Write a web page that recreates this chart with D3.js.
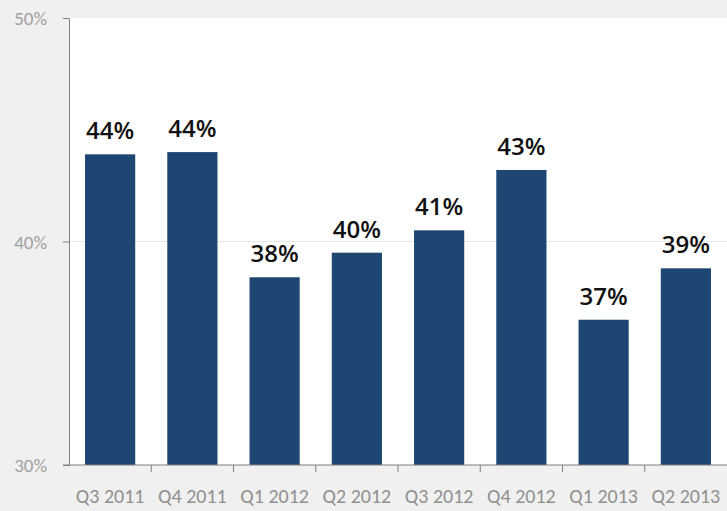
<html>
<head>
<script src="https://d3js.org/d3.v7.min.js" charset="utf-8"></script>
<style>
  body { margin: 0; background: #f0f0f0; }
</style>
</head>
<body>
<div id="viz"></div>
<script>
  // data
  const quarters = ["Q3 2011", "Q4 2011", "Q1 2012", "Q2 2012", "Q3 2012", "Q4 2012", "Q1 2013", "Q2 2013"];
  const shares   = [43.9, 44.0, 38.4, 39.5, 40.5, 43.2, 36.5, 38.8];
  const labels   = ["44%", "44%", "38%", "40%", "41%", "43%", "37%", "39%"];
  const yTicks   = [30, 40, 50];

  const width = 727, height = 511;
  const margin = { top: 18, right: 0, bottom: 46, left: 69 };
  const w = width - margin.left - margin.right,
        h = height - margin.top - margin.bottom;

  const svg = d3.select("#viz").append("svg").attr("width", width).attr("height", height)
      .style("display", "block");
  svg.append("rect").attr("width", width).attr("height", height).attr("fill", "#f0f0f0");

  const g = svg.append("g").attr("transform", `translate(${margin.left},${margin.top})`);
  g.append("rect").attr("width", w).attr("height", h).attr("fill", "#ffffff");

  const x = d3.scaleBand().domain(quarters).range([0, w]).paddingInner(0.39).paddingOuter(0.195);
  const xb = d3.scaleBand().domain(quarters).range([0, w]);   // tick positions at boundaries
  const y = d3.scaleLinear().domain([30, 50]).range([h, 0]);

  // gridline at 40%
  g.append("line").attr("x1", 0).attr("x2", w).attr("y1", y(40)).attr("y2", y(40))
      .attr("stroke", "#e6e6e6").attr("stroke-width", 1);

  // y axis
  const yAxis = g.append("g")
      .call(d3.axisLeft(y).tickValues(yTicks).tickFormat(d => d + "%").tickSize(6).tickSizeOuter(0));
  yAxis.select(".domain").attr("stroke", "#7f7f7f");
  yAxis.selectAll(".tick line").attr("stroke", "#7f7f7f");
  yAxis.selectAll(".tick text").attr("x", -22).attr("dy", "0.35em").attr("fill", "#a0a0a0")
      .style("font-family", "Carlito, Lato, sans-serif").style("font-size", "19px")
      .style("font-weight", "300");

  // bars
  g.selectAll(".bar").data(quarters).join("rect")
      .attr("class", "bar")
      .attr("x", d => x(d))
      .attr("y", (d, i) => y(shares[i]))
      .attr("width", x.bandwidth())
      .attr("height", (d, i) => h - y(shares[i]))
      .attr("fill", "#1d4772");

  // value labels
  g.selectAll(".lbl").data(quarters).join("text")
      .attr("class", "lbl")
      .attr("x", d => x(d) + x.bandwidth() / 2)
      .attr("y", (d, i) => y(shares[i]) - 15)
      .attr("text-anchor", "middle")
      .attr("fill", "#111")
      .style("font-family", "'Open Sans', 'DejaVu Sans', sans-serif")
      .style("font-size", "24px")
      .style("font-weight", "600")
      .text((d, i) => labels[i]);

  // x axis
  const xg = g.append("g").attr("transform", `translate(0,${h})`);
  xg.append("line").attr("x1", -6).attr("x2", w).attr("y1", 0).attr("y2", 0).attr("stroke", "#7f7f7f");
  xg.selectAll(".xt").data(quarters.slice(1)).join("line")
      .attr("x1", d => xb(d)).attr("x2", d => xb(d))
      .attr("y1", 0).attr("y2", 7).attr("stroke", "#7f7f7f");
  xg.selectAll(".xl").data(quarters).join("text")
      .attr("x", d => xb(d) + xb.bandwidth() / 2)
      .attr("y", 38)
      .attr("text-anchor", "middle")
      .attr("fill", "#909090")
      .style("font-family", "Carlito, Lato, sans-serif")
      .style("font-size", "20px")
      .style("font-weight", "300")
      .text(d => d);
</script>
</body>
</html>
